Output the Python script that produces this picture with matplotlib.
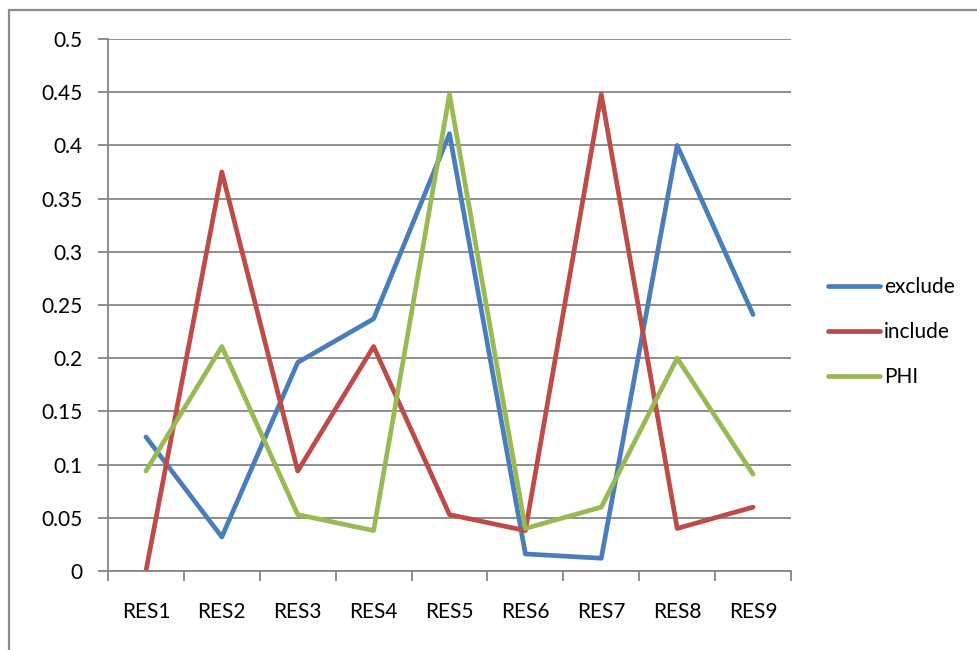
import matplotlib.pyplot as plt
from matplotlib.patches import Rectangle
import numpy as np

categories = ["RES1", "RES2", "RES3", "RES4", "RES5", "RES6", "RES7", "RES8", "RES9"]
exclude = [0.126, 0.032, 0.196, 0.237, 0.411, 0.016, 0.012, 0.400, 0.241]
include = [0.0, 0.375, 0.094, 0.211, 0.053, 0.038, 0.448, 0.040, 0.060]
phi = [0.094, 0.211, 0.053, 0.038, 0.448, 0.040, 0.060, 0.200, 0.091]
y_ticks = [0, 0.05, 0.1, 0.15, 0.2, 0.25, 0.3, 0.35, 0.4, 0.45, 0.5]
y_labels = ["0", "0.05", "0.1", "0.15", "0.2", "0.25", "0.3", "0.35", "0.4", "0.45", "0.5"]

plt.rcParams["font.family"] = ["Lato", "DejaVu Sans"]
GRID = "#868686"
FS = 15
LW = 3.4

W, H = 978, 650
fig = plt.figure(figsize=(W / 100, H / 100), dpi=100)

# outer chart border (runs off the right and bottom edges)
fig.patches.append(
    Rectangle((9 / W, -0.05), 1.1, 1 - 10 / H + 0.05, transform=fig.transFigure,
              fill=False, edgecolor="#8c8c8c", linewidth=1.6)
)

ax = fig.add_axes([108 / W, (H - 571) / H, (791 - 108) / W, (571 - 39) / H])
x = np.arange(len(categories))

line_style = dict(linewidth=LW, solid_joinstyle="round", solid_capstyle="round")
ax.plot(x, exclude, color="#4A7EBB", label="exclude", **line_style)
ax.plot(x, include, color="#BE4B48", label="include", **line_style)
ax.plot(x, phi, color="#98B954", label="PHI", **line_style)

ax.set_xlim(-0.5, len(categories) - 0.5)
ax.set_ylim(0, 0.5)
ax.set_yticks(y_ticks, y_labels)
ax.set_xticks(x, categories)
ax.set_xticks(np.arange(-0.5, len(categories)), minor=True)
ax.tick_params(axis="x", which="major", length=0, pad=22, labelsize=FS)
ax.tick_params(axis="x", which="minor", length=7, width=1.3, color=GRID, direction="out")
ax.tick_params(axis="y", length=7, width=1.3, color=GRID, pad=11, labelsize=FS)

ax.grid(axis="y", color=GRID, linewidth=1.3)
ax.set_axisbelow(True)
for side in ("top", "right"):
    ax.spines[side].set_visible(False)
for side in ("left", "bottom"):
    ax.spines[side].set_color(GRID)
    ax.spines[side].set_linewidth(1.3)

ax.legend(
    loc="center left",
    bbox_to_anchor=(828 / W, (H - 332) / H),
    bbox_transform=fig.transFigure,
    frameon=False,
    fontsize=FS,
    handlelength=2.5,
    handletextpad=0.2,
    labelspacing=1.2,
    borderaxespad=0,
    borderpad=0,
)

fig.savefig("out.png", dpi=100)
